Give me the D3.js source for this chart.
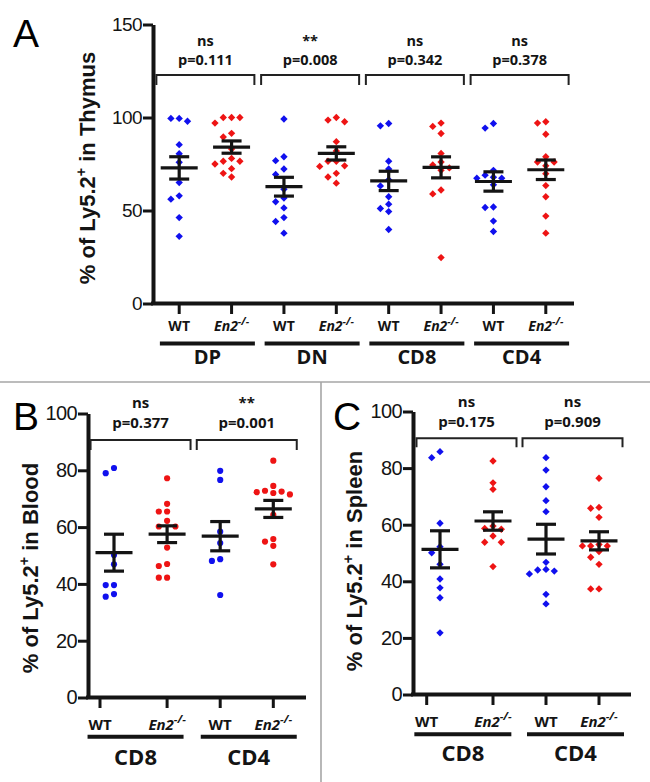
<!DOCTYPE html>
<html>
<head>
<meta charset="utf-8">
<script src="https://cdn.jsdelivr.net/npm/d3@7"></script>
<style>
  body { margin: 0; background: #fff; }
  svg { display: block; }
</style>
</head>
<body>
<script>
// categories
const thymusGroups = ["DP", "DN", "CD8", "CD4"];
const peripheralGroups = ["CD8", "CD4"];
const genotypes = ["WT", "En2"];
const thymusTicks = [0, 50, 100, 150];
const peripheralTicks = [0, 20, 40, 60, 80, 100];

// A: % of Ly5.2+ in thymus, one array per group
const thymusWT = [
  [99.5, 98, 99.5, 85.4, 80.5, 75.9, 65, 57.9, 56.1, 46.2, 36.1],
  [99.2, 78.9, 76.8, 72.3, 69.4, 61.4, 56.7, 54.7, 51.4, 46.2, 44.1, 37.8],
  [96.8, 95.5, 76.5, 72.3, 66.5, 63.2, 57.4, 53.4, 51.1, 49.4, 39.8],
  [96.8, 94.3, 71.6, 69, 67.9, 67.4, 67.4, 63.8, 51.9, 51.6, 44.3, 38.7]
];
const thymusKO = [
  [100, 100, 100, 97, 91.5, 89.5, 83, 78, 76.5, 76.5, 75, 72.5, 70, 68],
  [100, 98.6, 97.7, 87, 82, 76.5, 76.5, 74, 73.7, 70, 68, 64.7],
  [97, 95.2, 91.4, 80.7, 76.1, 74.5, 72.9, 71.6, 61, 58.9, 24.7],
  [97.7, 97, 91, 78.9, 76.1, 76.1, 74, 69.8, 63.4, 57.4, 47, 37.8]
];
const thymusMeanWT = [72.9, 62.8, 65.9, 65.6];
const thymusSemWT = [6.0, 5.05, 5.2, 5.2];
const thymusMeanKO = [84.1, 80.7, 73.2, 71.9];
const thymusSemKO = [3.3, 3.55, 5.65, 5.25];
const thymusSig = ["ns", "**", "ns", "ns"];
const thymusP = ["p=0.111", "p=0.008", "p=0.342", "p=0.378"];

// B: blood
const bloodWT = [
  [80.8, 79, 50.2, 46.9, 39.6, 39.6, 36.4, 35.5],
  [79.8, 76.6, 58.4, 54.4, 48.7, 48.1, 36.1]
];
const bloodKO = [
  [77.2, 68.2, 65.5, 65.5, 62.2, 60.2, 60.2, 52.8, 47, 46.3, 42.2, 42.2],
  [83.4, 74.5, 72.8, 72.5, 72.3, 72, 71.5, 64.3, 55.8, 54.9, 53.4, 46.9]
];
const bloodMeanWT = [51, 56.8];
const bloodSemWT = [6.5, 5.15];
const bloodMeanKO = [57.5, 66.4];
const bloodSemKO = [2.95, 3.0];
const bloodSig = ["ns", "**"];
const bloodP = ["p=0.377", "p=0.001"];

// C: spleen
const spleenWT = [
  [85.8, 83.7, 60.5, 52.2, 50.1, 46, 40.8, 37.7, 34.2, 21.8],
  [83.7, 79.3, 73.4, 68.5, 64.6, 46.7, 44.2, 44, 43.6, 42.6, 35.4, 32]
];
const spleenKO = [
  [82.5, 74.8, 72.5, 59.5, 58.7, 58.4, 56, 53.8, 53.8, 45.2],
  [76.4, 66.1, 65.8, 62.6, 53, 52.5, 52.5, 52.5, 50.5, 48.5, 46, 37.3, 37.3]
];
const spleenMeanWT = [51.3, 54.9];
const spleenSemWT = [6.55, 5.25];
const spleenMeanKO = [61.3, 54.3];
const spleenSemKO = [3.25, 3.2];
const spleenSig = ["ns", "ns"];
const spleenP = ["p=0.175", "p=0.909"];

const W = 650, H = 782;
const INK = "#141414";
const BLUE = "#1010ee";
const RED = "#ee1414";
const ARIAL = "'Liberation Sans', Arial, sans-serif";
const MYRIAD = "'Open Sans', sans-serif";

const svg = d3.select("body").append("svg")
  .attr("width", W)
  .attr("height", H);

svg.append("rect").attr("width", W).attr("height", H).attr("fill", "#fff");

// panel separators
svg.append("line")
  .attr("x1", 0).attr("x2", W).attr("y1", 382).attr("y2", 382)
  .attr("stroke", "#a6a6a6").attr("stroke-width", 1.6);
svg.append("line")
  .attr("x1", 321).attr("x2", 321).attr("y1", 382).attr("y2", H)
  .attr("stroke", "#a6a6a6").attr("stroke-width", 1.6);

function buildSeries(groups, wt, ko, meanWT, semWT, meanKO, semKO) {
  var out = [];
  groups.forEach(function(g, i) {
    out.push({ group: g, geno: "WT", key: g + "|WT", values: wt[i], mean: meanWT[i], sem: semWT[i] });
    out.push({ group: g, geno: "En2", key: g + "|En2", values: ko[i], mean: meanKO[i], sem: semKO[i] });
  });
  return out;
}

// simple beeswarm like the Prism scatter: columns of step px, highest first
function dodge(vals, y, step, size) {
  var placed = [];
  vals.slice().sort(function(a, b) { return b - a; }).forEach(function(v) {
    var py = y(v);
    for (var k = 0; k < 20; k++) {
      var off = k === 0 ? 0 : (k % 2 ? -1 : 1) * Math.ceil(k / 2) * step;
      var hit = placed.some(function(q) {
        return Math.abs(q.y - py) < size && Math.abs(q.dx - off) < step * 0.5;
      });
      if (!hit) { placed.push({ v: v, y: py, dx: off }); break; }
    }
  });
  return placed;
}

function drawPanel(p) {
  var g = svg.append("g");
  var keys = p.series.map(function(s) { return s.key; });

  var y = d3.scaleLinear().domain(p.yDomain).range([p.yBottom, p.yTop]);
  var x = d3.scalePoint().domain(keys).range([p.xFirst, p.xLast]);

  // y axis
  var yAxis = d3.axisLeft(y)
    .tickValues(p.yTicks)
    .tickSize(10)
    .tickSizeOuter(0)
    .tickPadding(1);
  var ga = g.append("g")
    .attr("transform", "translate(" + p.axisX + ",0)")
    .call(yAxis);
  ga.select(".domain").attr("stroke", INK).attr("stroke-width", 4);
  ga.selectAll(".tick line").attr("stroke", INK).attr("stroke-width", 3);
  ga.selectAll(".tick text")
    .attr("font-family", ARIAL)
    .attr("font-size", p.tickFont)
    .attr("letter-spacing", -0.6)
    .attr("fill", INK);

  // x axis line
  g.append("line")
    .attr("x1", p.axisX - 2).attr("x2", p.xEnd)
    .attr("y1", y(0)).attr("y2", y(0))
    .attr("stroke", INK).attr("stroke-width", 4);

  var tickX = function(s, i) { return x(s.key) - (i === 0 ? p.firstTickShift : 0); };

  g.selectAll(".xtick").data(p.series).join("line")
    .attr("class", "xtick")
    .attr("x1", tickX).attr("x2", tickX)
    .attr("y1", y(0)).attr("y2", y(0) + 10.5)
    .attr("stroke", INK).attr("stroke-width", 3);

  var gl = g.selectAll(".genolabel").data(p.series).join("text")
    .attr("class", "genolabel")
    .attr("x", tickX)
    .attr("y", p.genoY)
    .attr("text-anchor", "middle")
    .attr("font-family", MYRIAD)
    .attr("font-weight", 700)
    .attr("font-size", p.genoFont)
    .attr("fill", INK);
  gl.filter(function(s) { return s.geno === "WT"; }).text("WT");
  var ko = gl.filter(function(s) { return s.geno !== "WT"; });
  ko.append("tspan").attr("font-style", "italic").text("En2");
  ko.append("tspan").attr("font-style", "italic").attr("font-size", p.genoFont * 0.75)
    .attr("dy", -p.genoFont * 0.45).text("-/-");

  // group underline + name, bracket + stats
  p.groups.forEach(function(grp, gi) {
    var ss = p.series.filter(function(s) { return s.group === grp; });
    var tx = ss.map(function(s) { return tickX(s, p.series.indexOf(s)); });
    var dx = ss.map(function(s) { return x(s.key); });
    var uc = d3.mean(tx) + p.underShift;
    var bc = d3.mean(dx);

    g.append("line")
      .attr("x1", uc - p.underHalf).attr("x2", uc + p.underHalf)
      .attr("y1", p.underY).attr("y2", p.underY)
      .attr("stroke", INK).attr("stroke-width", 4);
    g.append("text")
      .attr("x", uc).attr("y", p.groupY)
      .attr("text-anchor", "middle")
      .attr("font-family", MYRIAD).attr("font-weight", 700)
      .attr("font-size", p.groupFont).attr("fill", INK)
      .text(grp);

    g.append("path")
      .attr("d", "M" + (bc - p.bracketHalf) + "," + p.bracketBot + "V" + p.bracketTop +
                 "H" + (bc + p.bracketHalf) + "V" + p.bracketBot)
      .attr("fill", "none").attr("stroke", "#222").attr("stroke-width", 2);
    g.append("text")
      .attr("x", bc).attr("y", p.sigY)
      .attr("text-anchor", "middle")
      .attr("font-family", MYRIAD).attr("font-weight", 700)
      .attr("font-size", p.annFont).attr("fill", INK)
      .text(p.sig[gi]);
    g.append("text")
      .attr("x", bc).attr("y", p.pY)
      .attr("text-anchor", "middle")
      .attr("font-family", MYRIAD).attr("font-weight", 700)
      .attr("font-size", p.annFont).attr("fill", INK)
      .text(p.pvals[gi]);
  });

  // points
  var sym = p.marker === "circle"
    ? d3.symbol(d3.symbolCircle, 30)
    : d3.symbol(d3.symbolSquare, 27);
  p.series.forEach(function(s) {
    var pts = dodge(s.values, y, 8.3, 6.5);
    g.selectAll(null).data(pts).join("path")
      .attr("d", sym)
      .attr("transform", function(d) {
        return "translate(" + (x(s.key) + d.dx) + "," + d.y + ")" + (p.marker === "circle" ? "" : " rotate(45)");
      })
      .attr("fill", s.geno === "WT" ? BLUE : RED);
  });

  // mean +/- SEM
  p.series.forEach(function(s) {
    var cx = x(s.key);
    var bar = g.append("g").attr("stroke", INK).attr("stroke-width", 3.2).attr("fill", "none");
    bar.append("line").attr("x1", cx - 18.5).attr("x2", cx + 18.5)
      .attr("y1", y(s.mean)).attr("y2", y(s.mean));
    bar.append("line").attr("x1", cx).attr("x2", cx)
      .attr("y1", y(s.mean + s.sem)).attr("y2", y(s.mean - s.sem));
    [s.mean + s.sem, s.mean - s.sem].forEach(function(v) {
      bar.append("line").attr("x1", cx - 10).attr("x2", cx + 10)
        .attr("y1", y(v)).attr("y2", y(v));
    });
  });

  // y title
  var t = g.append("text")
    .attr("transform", "translate(" + p.titleX + "," + p.titleY + ") rotate(-90)")
    .attr("text-anchor", "middle")
    .attr("font-family", ARIAL).attr("font-weight", 700)
    .attr("font-size", p.titleFont).attr("fill", INK);
  t.append("tspan").text("% of Ly5.2");
  t.append("tspan").attr("font-size", p.titleFont * 0.65).attr("dy", -p.titleFont * 0.42).text("+");
  t.append("tspan").attr("dy", p.titleFont * 0.42).text(" in " + p.tissue);

  // panel letter
  g.append("text")
    .attr("x", p.letterX).attr("y", p.letterY)
    .attr("font-family", ARIAL).attr("font-size", 39).attr("fill", "#000")
    .text(p.letter);
}

drawPanel({
  letter: "A", letterX: 13, letterY: 47,
  tissue: "Thymus", titleX: 95, titleY: 168, titleFont: 22,
  groups: thymusGroups,
  series: buildSeries(thymusGroups, thymusWT, thymusKO, thymusMeanWT, thymusSemWT, thymusMeanKO, thymusSemKO),
  sig: thymusSig, pvals: thymusP,
  yDomain: [0, 150], yTicks: thymusTicks, yTop: 24.5, yBottom: 303.5,
  axisX: 153, xFirst: 179.2, xLast: 545.8, xEnd: 574, firstTickShift: 0,
  tickFont: 19, genoY: 331, genoFont: 14,
  underY: 343.5, underHalf: 47.5, underShift: 2, groupY: 364, groupFont: 20,
  bracketTop: 75, bracketBot: 85, bracketHalf: 49, sigY: 45.5, pY: 65, annFont: 14.5,
  marker: "diamond"
});

drawPanel({
  letter: "B", letterX: 13, letterY: 430,
  tissue: "Blood", titleX: 38, titleY: 568, titleFont: 22,
  groups: peripheralGroups,
  series: buildSeries(peripheralGroups, bloodWT, bloodKO, bloodMeanWT, bloodSemWT, bloodMeanKO, bloodSemKO),
  sig: bloodSig, pvals: bloodP,
  yDomain: [0, 100], yTicks: peripheralTicks, yTop: 413.5, yBottom: 697.5,
  axisX: 88, xFirst: 114, xLast: 273.3, xEnd: 306, firstTickShift: 14,
  tickFont: 20, genoY: 730, genoFont: 15,
  underY: 736.7, underHalf: 48, underShift: 2, groupY: 764.5, groupFont: 22,
  bracketTop: 440, bracketBot: 450, bracketHalf: 50, sigY: 408, pY: 428.3, annFont: 15,
  marker: "circle"
});

drawPanel({
  letter: "C", letterX: 333, letterY: 430,
  tissue: "Spleen", titleX: 362, titleY: 561, titleFont: 22,
  groups: peripheralGroups,
  series: buildSeries(peripheralGroups, spleenWT, spleenKO, spleenMeanWT, spleenSemWT, spleenMeanKO, spleenSemKO),
  sig: spleenSig, pvals: spleenP,
  yDomain: [0, 100], yTicks: peripheralTicks, yTop: 411.5, yBottom: 694.5,
  axisX: 413, xFirst: 440, xLast: 599, xEnd: 631, firstTickShift: 13.3,
  tickFont: 20, genoY: 726.5, genoFont: 15,
  underY: 734.3, underHalf: 48.5, underShift: 3, groupY: 761, groupFont: 22,
  bracketTop: 438.3, bracketBot: 447.3, bracketHalf: 50, sigY: 406.5, pY: 426.7, annFont: 15,
  marker: "diamond"
});
</script>
</body>
</html>
